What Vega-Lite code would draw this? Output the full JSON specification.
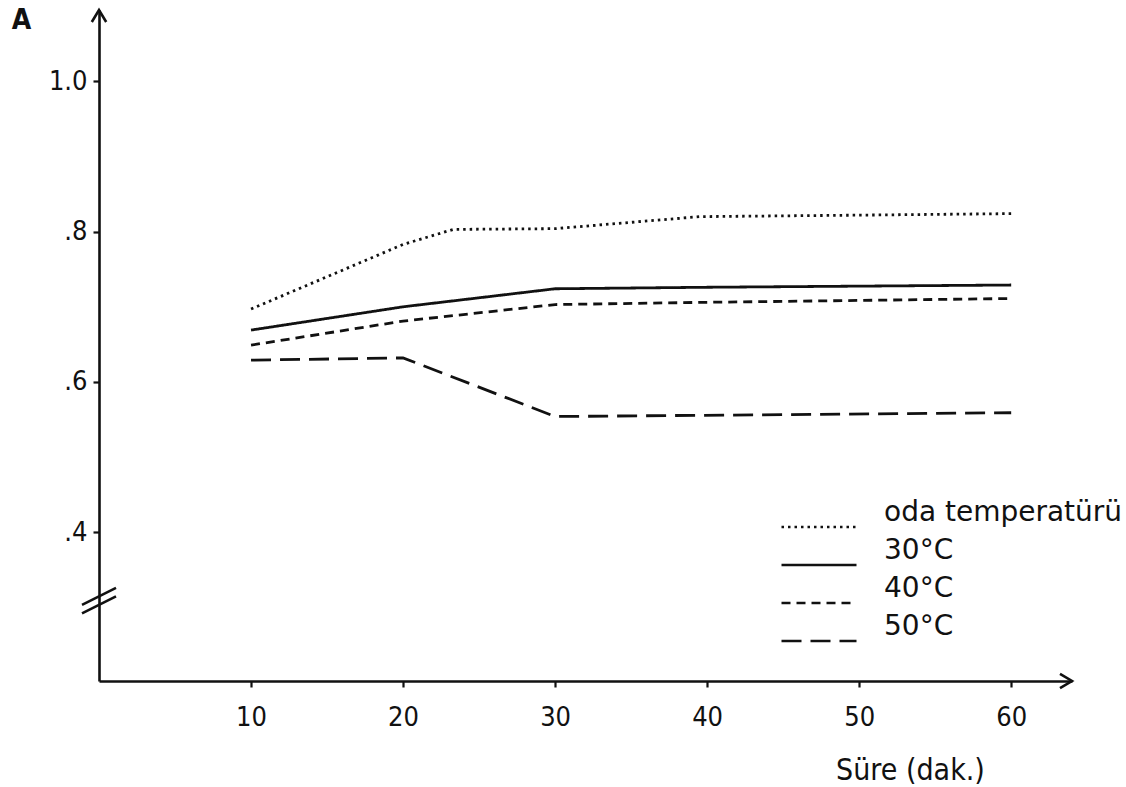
{
  "$schema": "https://vega.github.io/schema/vega-lite/v6.json",
  "autosize": {"type": "none"},
  "width": 973,
  "height": 671,
  "padding": {"left": 99, "top": 10, "right": 54, "bottom": 106},
  "background": "white",
  "config": {
    "view": {"stroke": null},
    "font": "DejaVu Sans Condensed, DejaVu Sans, sans-serif",
    "axis": {"domainColor": "#111", "domainWidth": 2.6, "tickColor": "#111", "tickWidth": 2.2, "grid": false, "labelColor": "#111", "titleColor": "#111", "labelFontSize": 27, "titleFontSize": 28, "titleFontWeight": "normal"}
  },
  "datasets": {
    "main": [
      {"t": 10, "A": 0.697, "seri": "oda temperatürü"},
      {"t": 20, "A": 0.783, "seri": "oda temperatürü"},
      {"t": 23.3, "A": 0.803, "seri": "oda temperatürü"},
      {"t": 30, "A": 0.804, "seri": "oda temperatürü"},
      {"t": 39.5, "A": 0.82, "seri": "oda temperatürü"},
      {"t": 50, "A": 0.822, "seri": "oda temperatürü"},
      {"t": 60, "A": 0.824, "seri": "oda temperatürü"},
      {"t": 10, "A": 0.669, "seri": "30°C"},
      {"t": 20, "A": 0.7, "seri": "30°C"},
      {"t": 30, "A": 0.724, "seri": "30°C"},
      {"t": 40, "A": 0.726, "seri": "30°C"},
      {"t": 60, "A": 0.729, "seri": "30°C"},
      {"t": 10, "A": 0.649, "seri": "40°C"},
      {"t": 20, "A": 0.681, "seri": "40°C"},
      {"t": 30, "A": 0.703, "seri": "40°C"},
      {"t": 40, "A": 0.706, "seri": "40°C"},
      {"t": 60, "A": 0.711, "seri": "40°C"},
      {"t": 10, "A": 0.629, "seri": "50°C"},
      {"t": 20, "A": 0.632, "seri": "50°C"},
      {"t": 30, "A": 0.554, "seri": "50°C"},
      {"t": 60, "A": 0.559, "seri": "50°C"}
    ]
  },
  "layer": [
    {
      "data": {"name": "main"},
      "mark": {"type": "line", "color": "#111", "strokeWidth": 2.8, "strokeCap": "butt"},
      "encoding": {
        "x": {
          "field": "t", "type": "quantitative",
          "scale": {"domain": [0, 64], "nice": false, "zero": false},
          "axis": {
            "values": [10, 20, 30, 40, 50, 60], "tickSize": 6, "labelPadding": 17,
            "title": "Süre (dak.)", "titleFontSize": 30, "titleX": 811, "titleY": 89, "titleAlign": "center", "titleBaseline": "middle"
          }
        },
        "y": {
          "field": "A", "type": "quantitative",
          "scale": {"domain": [0.202, 1.095], "nice": false, "zero": false},
          "axis": {
            "values": [0.4, 0.6, 0.8, 1.0], "tickSize": 6, "labelPadding": 6,
            "labelExpr": "datum.value == 1 ? '1.0' : replace(format(datum.value, '.1f'), '0.', '.')",
            "title": "A", "titleAngle": 0, "titleX": -78, "titleY": 10, "titleAlign": "center", "titleBaseline": "middle", "titleFontWeight": "bold"
          }
        },
        "strokeDash": {
          "field": "seri", "type": "nominal",
          "scale": {
            "domain": ["oda temperatürü", "30°C", "40°C", "50°C"],
            "range": [[2.5, 4], [1, 0], [9, 6], [20, 9]]
          },
          "legend": {
            "title": null, "orient": "none", "legendX": 681, "legendY": 505,
            "symbolType": "stroke", "symbolSize": 5625, "symbolStrokeWidth": 2.6, "symbolStrokeColor": "#111",
            "clipHeight": 24, "rowPadding": -2, "labelFontSize": 28, "labelFont": "DejaVu Sans", "labelColor": "#111",
            "labelOffset": 26, "labelBaseline": "bottom", "labelLimit": 400
          }
        }
      }
    },
    {
      "data": {"values": [{}]},
      "mark": {"type": "point", "shape": "M-1,-0.6L0,0L-1,0.6", "filled": false, "size": 576, "stroke": "#111", "strokeWidth": 2.6, "opacity": 1},
      "encoding": {"x": {"datum": 64}, "y": {"datum": 0.202}}
    },
    {
      "data": {"values": [{}]},
      "mark": {"type": "point", "shape": "M-0.6,1L0,0L0.6,1", "filled": false, "size": 576, "stroke": "#111", "strokeWidth": 2.6, "opacity": 1},
      "encoding": {"x": {"datum": 0}, "y": {"datum": 1.095}}
    },
    {
      "data": {"values": [{}]},
      "mark": {"type": "point", "shape": "M-1,0.25L1,-0.75M-1,0.75L1,-0.25", "filled": false, "size": 1156, "stroke": "#111", "strokeWidth": 2.6, "opacity": 1},
      "encoding": {"x": {"datum": 0}, "y": {"datum": 0.309}}
    }
  ]
}
